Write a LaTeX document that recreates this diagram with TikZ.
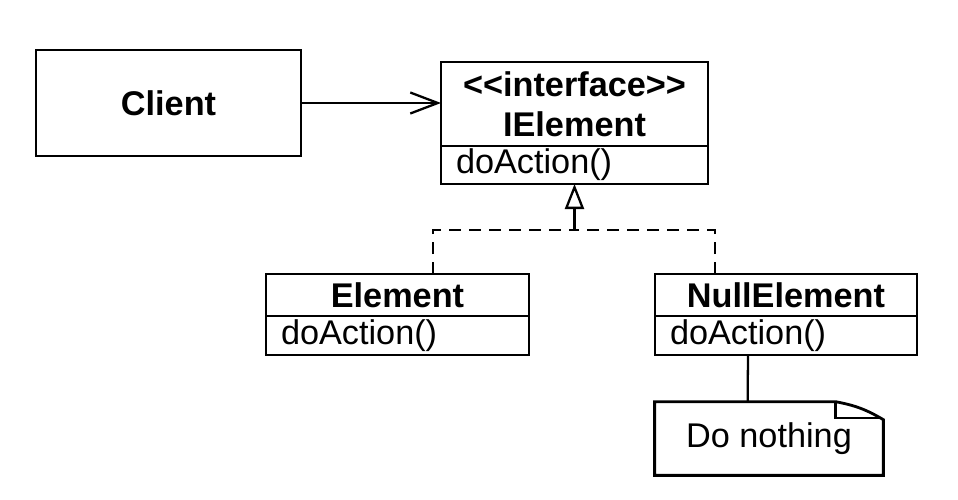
\documentclass[tikz,border=0pt]{standalone}
\usepackage{fontspec}
\newfontfamily\umlfont{Liberation Sans}
\usetikzlibrary{positioning,calc,arrows.meta}

\begin{document}
\begin{tikzpicture}[
  font=\umlfont\fontsize{19.5}{23}\selectfont,
  box/.style={draw,line width=1.6pt,inner sep=0pt,outer sep=0pt},
  headbox/.style={box,font=\umlfont\bfseries\fontsize{19.5}{23}\selectfont,align=center},
  methbox/.style={box,align=left,inner xsep=0.3cm,text width=#1},
  link/.style={line width=1.3pt},
  realize/.style={link,dash pattern=on 0.24cm off 0.16cm}
]
\useasboundingbox (0,0) rectangle (19.16,-9.98);

% classes
\node[headbox,minimum width=5.30cm,minimum height=2.12cm] (client) at (3.37,-2.06) {Client};
\node[headbox,minimum width=5.34cm,minimum height=1.68cm] (ielem) at (11.49,-2.08) {<<interface>>\\IElement};
\node[methbox=4.74cm,minimum height=0.76cm,below=0pt of ielem] (ielemops) {doAction()};
\node[headbox,minimum width=5.26cm,minimum height=0.84cm] (elem) at (7.95,-5.90) {Element};
\node[methbox=4.66cm,minimum height=0.78cm,below=0pt of elem] (elemops) {doAction()};
\node[headbox,minimum width=5.24cm,minimum height=0.84cm] (null) at (15.72,-5.90) {NullElement};
\node[methbox=4.64cm,minimum height=0.78cm,below=0pt of null] (nullops) {doAction()};

% note
\node[inner sep=0pt,minimum width=4.56cm,minimum height=1.46cm] (note) at (15.38,-8.77) {Do nothing};
\draw[box] (note.north west) -- ($(note.north east)+(-0.96,0)$) coordinate (fold)
  to[bend left=10] ($(note.north east)+(0,-0.36)$) -- (note.south east) -- (note.south west) -- cycle;
\draw[link] (fold) -- ++(0,-0.32) -- ($(note.north east)+(-0.05,-0.32)$);

% connectors
\draw[link,-{Straight Barb[length=0.55cm,width=0.42cm]}] (client.east) -- (client.east -| ielem.west);
\coordinate (join) at ($(ielemops.south)+(0,-0.92)$);
\draw[realize] ($(elem.north)+(0.71,0)$) |- (join);
\draw[realize] ($(null.north)+(-1.42,0)$) |- (join);
\draw[link,-{Triangle[open,length=0.5cm,width=0.38cm]}] (join) -- (ielemops.south);
\draw[link] ($(nullops.south west)+(1.86,0)$) -- ($(note.north west)+(1.86,0)$);
\end{tikzpicture}
\end{document}
